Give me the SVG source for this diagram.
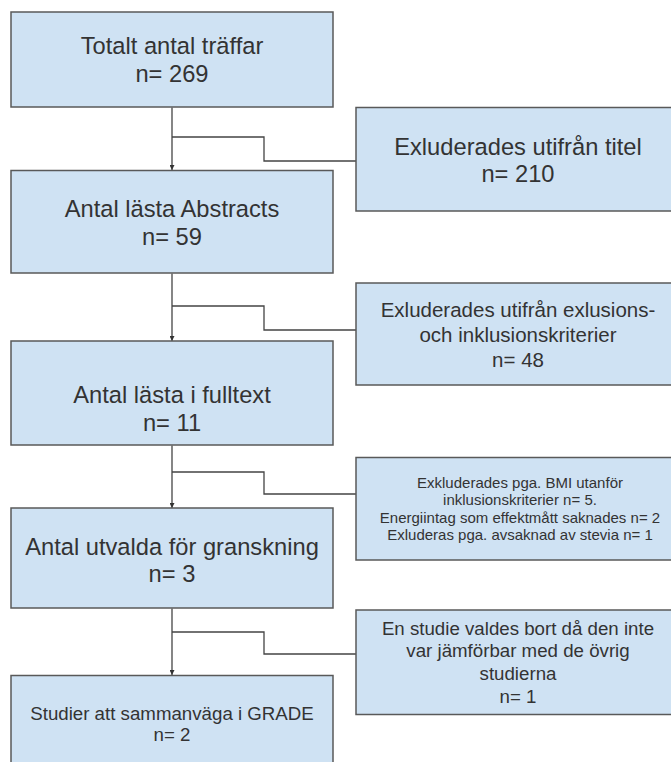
<svg xmlns="http://www.w3.org/2000/svg" width="671" height="762" viewBox="0 0 671 762">
<defs>
<style>
.box{fill:#cfe2f3;stroke:#595959;stroke-width:1.5}
.t{font-family:"Liberation Sans",Arial,sans-serif;fill:#333;text-anchor:middle}
.big{font-size:23.7px}
.mid{font-size:20.5px}
.sm{font-size:18.7px}
.xs{font-size:15px}
.c{fill:none;stroke:#444;stroke-width:1.3}
</style>
<marker id="arr" viewBox="0 0 10 10" refX="10" refY="5" markerWidth="5" markerHeight="5" markerUnits="userSpaceOnUse" orient="auto">
<path d="M0,0 L10,5 L0,10 z" fill="#333"/>
</marker>
</defs>
<rect width="671" height="762" fill="#fff"/>
<g id="connectors">
<path class="c" d="M172,107.5 V170" marker-end="url(#arr)"/>
<path class="c" d="M356,161 H264 V137 H172"/>
<path class="c" d="M172,273.5 V341" marker-end="url(#arr)"/>
<path class="c" d="M356,330 H264 V306 H172"/>
<path class="c" d="M172,445.5 V508" marker-end="url(#arr)"/>
<path class="c" d="M356,494 H264 V472 H172"/>
<path class="c" d="M172,608.5 V675" marker-end="url(#arr)"/>
<path class="c" d="M356,654 H264 V632 H172"/>
</g>
<g id="n1">
<rect class="box" x="11" y="12" width="322" height="95"/>
<text class="t big" x="172" y="54">Totalt antal träffar</text>
<text class="t big" x="172" y="81.5">n= 269</text>
</g>
<g id="n2">
<rect class="box" x="11" y="170.5" width="322" height="102.5"/>
<text class="t big" x="172" y="217">Antal lästa Abstracts</text>
<text class="t big" x="172" y="245">n= 59</text>
</g>
<g id="n3">
<rect class="box" x="11" y="341" width="322" height="104"/>
<text class="t big" x="172" y="403">Antal lästa i fulltext</text>
<text class="t big" x="172" y="430.5">n= 11</text>
</g>
<g id="n4">
<rect class="box" x="11" y="508" width="322" height="100"/>
<text class="t big" x="172" y="555">Antal utvalda för granskning</text>
<text class="t big" x="172" y="582">n= 3</text>
</g>
<g id="n5">
<rect class="box" x="11" y="675.5" width="322" height="100"/>
<text class="t sm" x="172" y="719.5">Studier att sammanväga i GRADE</text>
<text class="t sm" x="172" y="741">n= 2</text>
</g>
<g id="e1">
<rect class="box" x="356" y="107.5" width="324" height="103.5"/>
<text class="t big" x="518" y="155">Exluderades utifrån titel</text>
<text class="t big" x="518" y="181.5">n= 210</text>
</g>
<g id="e2">
<rect class="box" x="356" y="283" width="324" height="102"/>
<text class="t mid" x="518" y="317">Exluderades utifrån exlusions-</text>
<text class="t mid" x="518" y="342">och inklusionskriterier</text>
<text class="t mid" x="518" y="367">n= 48</text>
</g>
<g id="e3">
<rect class="box" x="356" y="457.5" width="324" height="102.5"/>
<text class="t xs" x="520" y="487.5">Exkluderades pga. BMI utanför</text>
<text class="t xs" x="520" y="505">inklusionskriterier n= 5.</text>
<text class="t xs" x="520" y="522.5">Energiintag som effektmått saknades n= 2</text>
<text class="t xs" x="520" y="540">Exluderas pga. avsaknad av stevia n= 1</text>
</g>
<g id="e4">
<rect class="box" x="356" y="610" width="324" height="104.5"/>
<text class="t sm" x="518" y="634.5">En studie valdes bort då den inte</text>
<text class="t sm" x="518" y="657">var jämförbar med de övrig</text>
<text class="t sm" x="518" y="680">studierna</text>
<text class="t sm" x="518" y="702.5">n= 1</text>
</g>
</svg>
